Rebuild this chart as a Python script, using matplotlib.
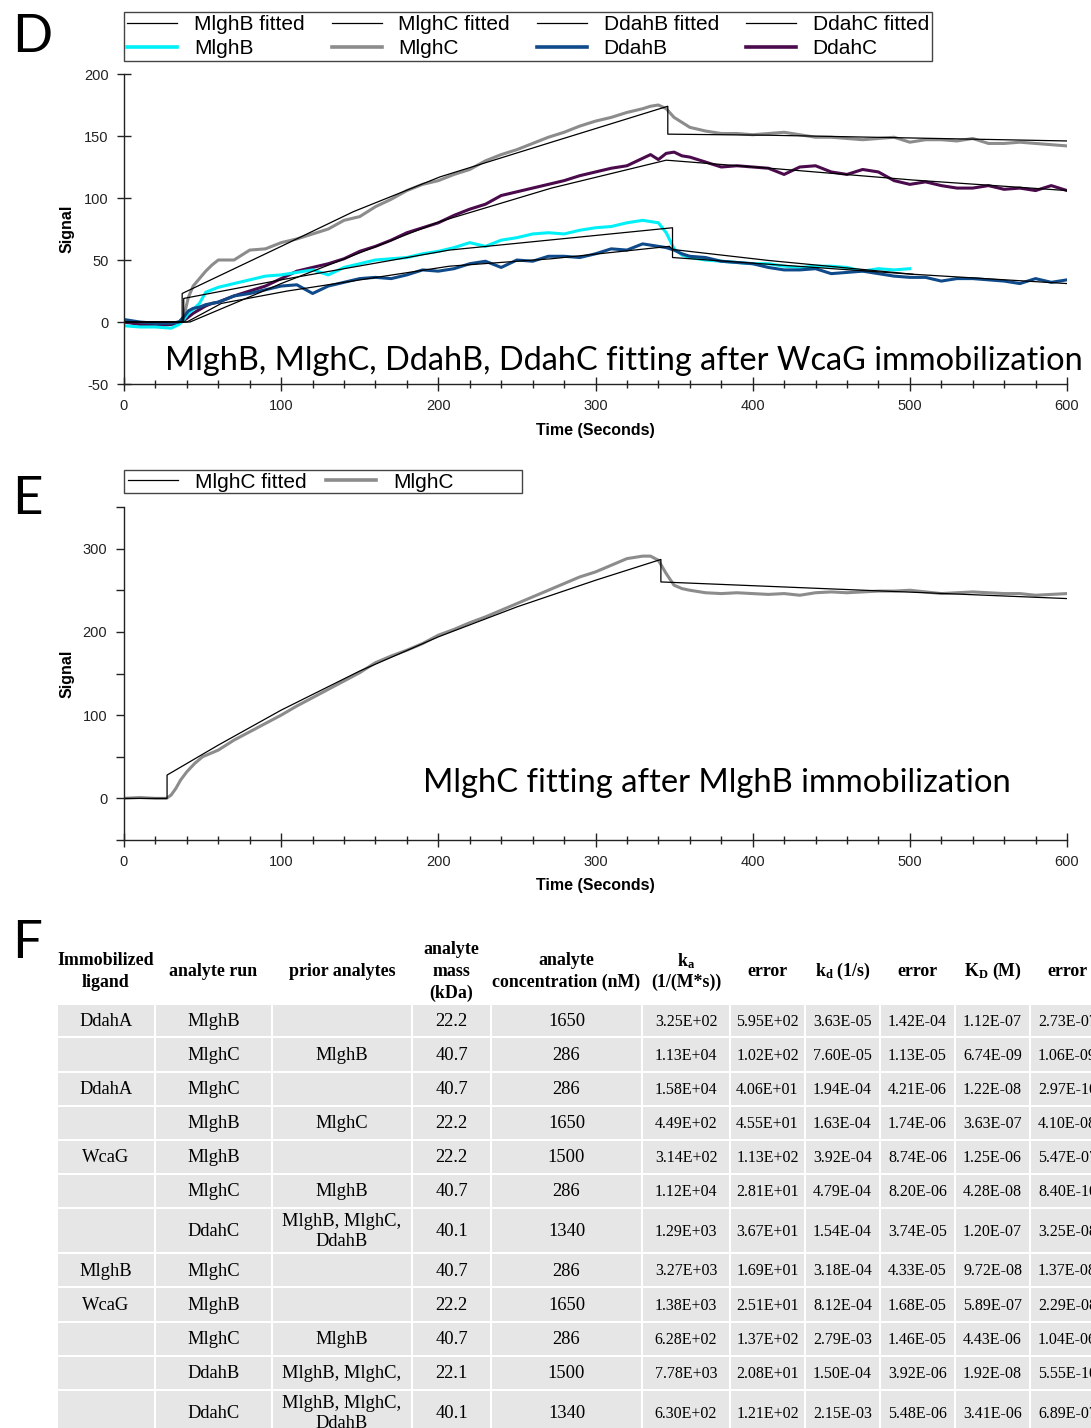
import matplotlib
matplotlib.use("Agg")
import matplotlib.pyplot as plt
import numpy as np
from matplotlib.patches import Rectangle
from matplotlib.lines import Line2D
from matplotlib.ticker import MultipleLocator

plt.rcParams["font.family"] = ["Liberation Sans", "DejaVu Sans"]
plt.rcParams["axes.unicode_minus"] = False
plt.rcParams["mathtext.fontset"] = "custom"
plt.rcParams["mathtext.rm"] = "Liberation Serif"
plt.rcParams["mathtext.bf"] = "Liberation Serif:bold"
plt.rcParams["mathtext.it"] = "Liberation Serif:italic"

# ---------------- panel D : traces ----------------
t_d = [0, 10, 20, 30, 35, 38, 41, 44, 48, 52, 56,
       60, 70, 80, 90, 100, 110, 120, 130, 140, 150, 160, 170, 180, 190,
       200, 210, 220, 230, 240, 250, 260, 270, 280, 290, 300, 310, 320, 330,
       335, 340, 345, 350, 355,
       360, 370, 380, 390, 400, 410, 420, 430, 440, 450, 460, 470, 480, 490,
       500, 510, 520, 530, 540, 550, 560, 570, 580, 590, 600]

mlghc_d = [0, -1, -1, -1, 0, 4, 20, 29, 35, 41, 46,
           50, 50, 58, 59, 64, 67, 71, 75, 82, 85, 93, 99, 106, 111,
           114, 119, 123, 130, 135, 139, 144, 149, 153, 158, 162, 165, 169, 172,
           174, 175, 172, 165, 161,
           157, 154, 152, 152, 151, 152, 153, 151, 149, 149, 148, 147, 148, 149,
           145, 147, 147, 146, 148, 144, 144, 145, 144, 143, 142]

mlghb_d = [-3, -4, -4, -5, -2, 2, 7, 10, 15, 24, 26,
           28, 31, 34, 37, 38, 40, 42, 38, 44, 47, 50, 51, 52, 55,
           57, 60, 64, 61, 66, 68, 71, 72, 71, 74, 76, 77, 80, 82,
           81, 80, 72, 59, 54,
           52, 50, 49, 48, 47, 47, 45, 44, 45, 45, 44, 41, 43, 42,
           43, np.nan, np.nan, np.nan, np.nan, np.nan, np.nan, np.nan, np.nan, np.nan, np.nan]

ddahb_d = [2, 0, -1, -1, 0, 4, 9, 11, 12, 14, 15,
           16, 21, 23, 26, 29, 30, 23, 29, 32, 35, 36, 35, 38, 42,
           41, 43, 47, 49, 44, 50, 49, 53, 53, 52, 55, 59, 58, 63,
           62, 61, 60, 58, 55,
           53, 52, 49, 48, 47, 44, 42, 42, 43, 39, 40, 41, 39, 37,
           36, 36, 33, 35, 35, 34, 33, 31, 35, 32, 34]

ddahc_d = [0, -2, -3, -2, -1, 1, 4, 7, 10, 13, 15,
           16, 21, 25, 29, 35, 41, 44, 47, 51, 57, 61, 66, 72, 76,
           80, 86, 91, 95, 102, 105, 108, 111, 114, 118, 121, 124, 126, 132,
           135, 131, 136, 137, 134,
           133, 129, 125, 126, 125, 124, 119, 125, 126, 121, 119, 123, 121, 114,
           111, 113, 110, 108, 108, 110, 107, 108, 106, 110, 106]

# fitted curves (vertices of the black model lines)
fit_mlghb_t = [0, 38, 38, 100, 207, 349, 349, 411, 502]
fit_mlghb_v = [0, 0, 19, 34, 58, 76, 52, 46.5, 38.5]
fit_mlghc_t = [0, 37, 37, 100, 146, 201, 272, 346, 346, 411, 600]
fit_mlghc_v = [0, 0, 23, 61, 89, 117, 145, 174, 151.5, 150.6, 146]
fit_ddahb_t = [0, 40, 62, 104, 207, 272, 347, 349, 411, 502, 600]
fit_ddahb_v = [0, 0, 15, 25, 45, 51, 61, 58.5, 49.5, 38.5, 31]
fit_ddahc_t = [0, 42, 100, 201, 272, 345, 411, 502, 600]
fit_ddahc_v = [0, 0, 31, 81, 108, 130.5, 124, 114.5, 106]

# ---------------- panel E ----------------
t_e = [0, 10, 20, 27, 30, 33, 36, 40, 45, 50,
       60, 70, 80, 90, 100, 110, 120, 130, 140, 150, 160, 170, 180, 190,
       200, 210, 220, 230, 240, 250, 260, 270, 280, 290, 300, 310, 320, 330,
       335, 340, 345, 350, 355,
       360, 370, 380, 390, 400, 410, 420, 430, 440, 450, 460, 470, 480, 490,
       500, 510, 520, 530, 540, 550, 560, 570, 580, 590, 600]
mlghc_e = [0, 1, 0, 0, 4, 12, 22, 32, 42, 50,
           58, 70, 80, 90, 100, 111, 121, 131, 141, 151, 163, 171, 178, 186,
           196, 203, 211, 218, 226, 234, 242, 250, 258, 266, 272, 280, 288, 291,
           291, 286, 270, 256, 252,
           250, 247, 246, 247, 246, 245, 246, 244, 247, 248, 247, 248, 249, 249,
           250, 248, 246, 247, 248, 247, 246, 246, 244, 245, 246]
fit_e_t = [0, 27.4, 27.4, 60, 100, 150, 200, 250, 300, 341.6, 341.6, 600]
fit_e_v = [0, 0, 28, 64, 106, 153, 194, 230, 262, 287, 260, 240]

# ---------------- panel F table ----------------
col_heads = [["Immobilized", "ligand"], ["analyte run"], ["prior analytes"],
             ["analyte", "mass", "(kDa)"], ["analyte", "concentration (nM)"],
             [r"k$_\mathbf{a}$", "(1/(M*s))"], ["error"], [r"k$_\mathbf{d}$ (1/s)"],
             ["error"], [r"K$_\mathbf{D}$ (M)"], ["error"]]
ligand = ["DdahA", "", "DdahA", "", "WcaG", "", "", "MlghB", "WcaG", "", "", ""]
analyte = ["MlghB", "MlghC", "MlghC", "MlghB", "MlghB", "MlghC", "DdahC",
           "MlghC", "MlghB", "MlghC", "DdahB", "DdahC"]
prior = ["", "MlghB", "", "MlghC", "", "MlghB", "MlghB, MlghC,\nDdahB",
         "", "", "MlghB", "MlghB, MlghC,", "MlghB, MlghC,\nDdahB"]
mass = ["22.2", "40.7", "40.7", "22.2", "22.2", "40.7", "40.1", "40.7", "22.2", "40.7", "22.1", "40.1"]
conc = ["1650", "286", "286", "1650", "1500", "286", "1340", "286", "1650", "286", "1500", "1340"]
ka = ["3.25E+02", "1.13E+04", "1.58E+04", "4.49E+02", "3.14E+02", "1.12E+04",
      "1.29E+03", "3.27E+03", "1.38E+03", "6.28E+02", "7.78E+03", "6.30E+02"]
ka_err = ["5.95E+02", "1.02E+02", "4.06E+01", "4.55E+01", "1.13E+02", "2.81E+01",
          "3.67E+01", "1.69E+01", "2.51E+01", "1.37E+02", "2.08E+01", "1.21E+02"]
kd = ["3.63E-05", "7.60E-05", "1.94E-04", "1.63E-04", "3.92E-04", "4.79E-04",
      "1.54E-04", "3.18E-04", "8.12E-04", "2.79E-03", "1.50E-04", "2.15E-03"]
kd_err = ["1.42E-04", "1.13E-05", "4.21E-06", "1.74E-06", "8.74E-06", "8.20E-06",
          "3.74E-05", "4.33E-05", "1.68E-05", "1.46E-05", "3.92E-06", "5.48E-06"]
KD = ["1.12E-07", "6.74E-09", "1.22E-08", "3.63E-07", "1.25E-06", "4.28E-08",
      "1.20E-07", "9.72E-08", "5.89E-07", "4.43E-06", "1.92E-08", "3.41E-06"]
KD_err = ["2.73E-07", "1.06E-09", "2.97E-10", "4.10E-08", "5.47E-07", "8.40E-10",
          "3.25E-08", "1.37E-08", "2.29E-08", "1.04E-06", "5.55E-10", "6.89E-07"]

W, H = 1091, 1428
fig = plt.figure(figsize=(W / 100, H / 100), dpi=100)

# pixel-space overlay for table, panel letters and captions
ov = fig.add_axes([0, 0, 1, 1])
ov.set_xlim(0, W)
ov.set_ylim(H, 0)
ov.axis("off")

c_mlghb = "#00f0f8"
c_mlghc = "#8c8c8c"
c_ddahb = "#0f4a8a"
c_ddahc = "#4a0a4c"


def style_axes(ax, ymin, ymax, ymajor, yminor=None, ydir="inout"):
    ax.set_xlim(0, 600)
    ax.set_ylim(ymin, ymax)
    ax.spines["top"].set_visible(False)
    ax.spines["right"].set_visible(False)
    for s in ("left", "bottom"):
        ax.spines[s].set_linewidth(1.0)
        ax.spines[s].set_color("#222222")
    ax.xaxis.set_major_locator(MultipleLocator(100))
    ax.xaxis.set_minor_locator(MultipleLocator(20))
    ax.yaxis.set_major_locator(MultipleLocator(ymajor))
    if yminor:
        ax.yaxis.set_minor_locator(MultipleLocator(yminor))
    ax.tick_params(axis="x", which="major", direction="inout", length=10, width=1, labelsize=10.5, pad=6, colors="#222222")
    ax.tick_params(axis="x", which="minor", direction="inout", length=6, width=1, colors="#222222")
    ax.tick_params(axis="y", which="major", direction=ydir, length=10 if ydir == "inout" else 6, width=1, labelsize=10.5, pad=6, colors="#222222")
    ax.tick_params(axis="y", which="minor", direction=ydir, length=6, width=1, colors="#222222")
    ax.set_xlabel("Time (Seconds)", fontsize=11.5, fontweight="bold")
    ax.set_ylabel("Signal", fontsize=11.5, fontweight="bold")
    ax.patch.set_visible(False)


# ---- D ----
axd = fig.add_axes([124 / W, 1 - 384 / H, 943 / W, 310 / H])
lw_d = 2.2
axd.plot(t_d, mlghc_d, color=c_mlghc, lw=lw_d)
axd.plot(t_d, ddahc_d, color=c_ddahc, lw=lw_d)
axd.plot(t_d, mlghb_d, color=c_mlghb, lw=lw_d)
axd.plot(t_d, ddahb_d, color=c_ddahb, lw=lw_d)
for ft, fv in [(fit_mlghb_t, fit_mlghb_v), (fit_mlghc_t, fit_mlghc_v),
               (fit_ddahb_t, fit_ddahb_v), (fit_ddahc_t, fit_ddahc_v)]:
    axd.plot(ft, fv, color="black", lw=0.9)
style_axes(axd, -50, 200, 50)
axd.yaxis.set_label_coords(-0.053, 0.5)
axd.xaxis.set_label_coords(0.5, -0.125)

h_fit = Line2D([], [], color="black", lw=0.9)
leg_d = fig.legend(
    [h_fit, Line2D([], [], color=c_mlghb, lw=2.6),
     h_fit, Line2D([], [], color=c_mlghc, lw=2.6),
     h_fit, Line2D([], [], color=c_ddahb, lw=2.6),
     h_fit, Line2D([], [], color=c_ddahc, lw=2.6)],
    ["MlghB fitted", "MlghB", "MlghC fitted", "MlghC",
     "DdahB fitted", "DdahB", "DdahC fitted", "DdahC"],
    loc="upper left", bbox_to_anchor=(124 / W, 1 - 12 / H), ncol=4, fontsize=15,
    frameon=True, fancybox=False, edgecolor="#444444", framealpha=1,
    handlelength=2.4, handletextpad=0.8, columnspacing=1.3, labelspacing=0.23,
    borderpad=0.15, borderaxespad=0)
leg_d.get_frame().set_linewidth(1.0)

# ---- E ----
axe = fig.add_axes([124 / W, 1 - 840 / H, 943 / W, 333 / H])
axe.plot(t_e, mlghc_e, color=c_mlghc, lw=lw_d)
axe.plot(fit_e_t, fit_e_v, color="black", lw=0.9)
style_axes(axe, -50, 350, 100, 50, ydir="out")
axe.yaxis.set_label_coords(-0.053, 0.5)
axe.xaxis.set_label_coords(0.5, -0.115)
leg_e = fig.legend(
    [h_fit, Line2D([], [], color=c_mlghc, lw=2.6)], ["MlghC fitted", "MlghC"],
    loc="center left", bbox_to_anchor=(124 / W, 1 - 482 / H), ncol=2, fontsize=15,
    frameon=False, handlelength=2.4, handletextpad=0.8, columnspacing=0.95,
    borderpad=0.2, borderaxespad=0)
ov.add_patch(Rectangle((124, 470), 398, 23, facecolor="none", edgecolor="#444444", lw=1.0))

# ---- panel letters and captions ----
big = ["Lato", "DejaVu Sans"]
for letter, yb in [("D", 52), ("E", 514), ("F", 958)]:
    ov.text(12, yb, letter, fontsize=38, family=big, va="baseline", ha="left")

renderer = fig.canvas.get_renderer()


def fit_width(txt, width_px):
    w = txt.get_window_extent(renderer).width
    txt.set_fontsize(txt.get_fontsize() * width_px / w)


cap_d = ov.text(165, 370, "MlghB, MlghC, DdahB, DdahC fitting after WcaG immobilization",
                fontsize=22, family=big, va="baseline", ha="left")
fit_width(cap_d, 913)
cap_e = ov.text(423, 792, "MlghC fitting after MlghB immobilization",
                fontsize=22, family=big, va="baseline", ha="left")
fit_width(cap_e, 587)

# ---- F table ----
col_edges = [57, 155, 272, 412, 491, 642, 730, 805, 880, 955, 1030, 1105]
row_heights = [33, 35, 34, 34, 34, 34, 45, 34, 35, 34, 34, 45]
head_top, head_bot = 937, 1004
serif = ["Liberation Serif", "DejaVu Serif"]

head_mid = (head_top + head_bot) / 2 + 1
for j, lines in enumerate(col_heads):
    xc = (col_edges[j] + col_edges[j + 1]) / 2
    n = len(lines)
    for k, ln in enumerate(lines):
        y = head_mid + (k - (n - 1) / 2) * 21.5
        ov.text(xc, y, ln, family=serif, fontsize=12.9, fontweight="bold",
                ha="center", va="center")

columns = [ligand, analyte, prior, mass, conc, ka, ka_err, kd, kd_err, KD, KD_err]
y0 = head_bot
for i, rh in enumerate(row_heights):
    for j in range(len(columns)):
        x0, x1 = col_edges[j], col_edges[j + 1]
        ov.add_patch(Rectangle((x0 + 1, y0 + 1), x1 - x0 - 2, rh - 2,
                               facecolor="#e6e6e6", edgecolor="none", clip_on=False))
        txt = columns[j][i]
        if txt:
            ov.text((x0 + x1) / 2, y0 + rh / 2 + 1, txt, family=serif,
                    fontsize=13.3 if j < 5 else 11.5, ha="center", va="center",
                    linespacing=1.25, clip_on=False)
    y0 += rh

fig.savefig("out.png", dpi=100)
